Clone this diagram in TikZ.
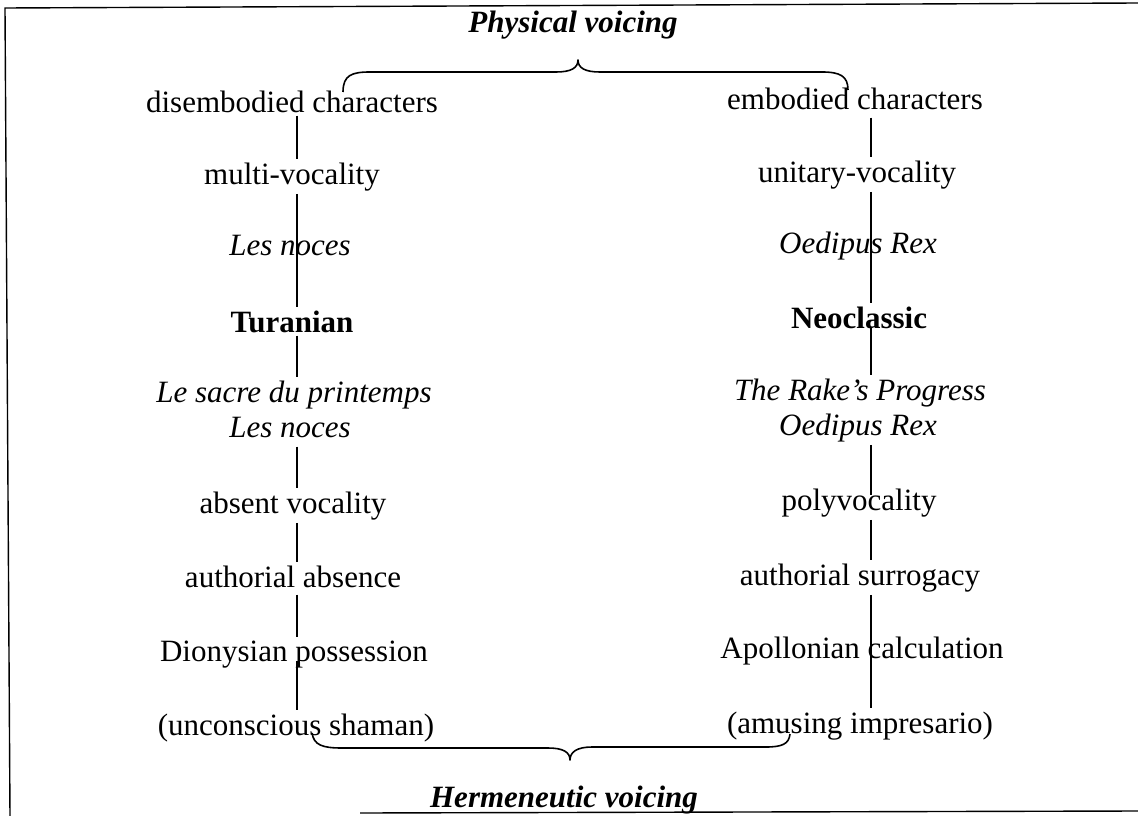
\documentclass[tikz,border=0pt]{standalone}
\usepackage{fontspec}
\setmainfont{Liberation Serif}
\begin{document}
\begin{tikzpicture}[x=1pt,y=-1pt,
  txt/.style={font=\fontsize{31}{37}\selectfont, anchor=base, inner xsep=0pt, inner ysep=3pt},
  ttl/.style={txt, font=\fontsize{31}{37}\selectfont\bfseries\itshape},
  conn/.style={line width=1.5pt},
  bracepath/.style={line width=1.6pt, line join=round},
  frame/.style={line width=1.4pt}]
\useasboundingbox (0,0) rectangle (1138,816);
% frame
\coordinate (f1) at (5,8);
\coordinate (f2) at (1138,3);
\coordinate (f3) at (10,816);
\coordinate (f4) at (360,813);
\coordinate (f5) at (1138,811);
\draw[frame] (f3) -- (f1) -- (f2);
\draw[frame] (f4) -- (f5);
% titles
\node[ttl] (top) at (573,33) {Physical voicing};
\node[ttl] (bot) at (564,807) {Hermeneutic voicing};
% left column
\node[txt] (L1) at (292,112) {disembodied characters};
\node[txt] (L2) at (292,184) {multi-vocality};
\node[txt] (L3) at (290,255) {\itshape Les noces};
\node[txt] (L4) at (292,332) {\bfseries Turanian};
\node[txt] (L5) at (294,402) {\itshape Le sacre du printemps};
\node[txt] (L6) at (290,437) {\itshape Les noces};
\node[txt] (L7) at (293,513) {absent vocality};
\node[txt] (L8) at (293,587) {authorial absence};
\node[txt] (L9) at (294,661) {Dionysian possession};
\node[txt] (L10) at (296,735) {(unconscious shaman)};
% right column
\node[txt] (R1) at (855,110) {embodied characters};
\node[txt] (R2) at (857,182) {unitary-vocality};
\node[txt] (R3) at (858,253) {\itshape Oedipus Rex};
\node[txt] (R4) at (859,328) {\bfseries Neoclassic};
\node[txt] (R5) at (860,400) {\itshape The Rake’s Progress};
\node[txt] (R6) at (858,435) {\itshape Oedipus Rex};
\node[txt] (R7) at (859,510) {polyvocality};
\node[txt] (R8) at (860,585) {authorial surrogacy};
\node[txt] (R9) at (862,658) {Apollonian calculation};
\node[txt] (R10) at (860,733) {(amusing impresario)};
% line positions
\coordinate (lx) at (297,0);
\coordinate (rx) at (871,0);
% left connectors
\draw[conn] (L1.south -| lx) -- (L2.north -| lx);
\draw[conn] (L2.south -| lx) -- (L3.center -| lx);
\draw[conn] (L3.center -| lx) -- (L4.north -| lx);
\draw[conn] (L4.south -| lx) -- (L5.north -| lx);
\draw[conn] ([yshift=-6pt]L6.south -| lx) -- (L7.north -| lx);
\draw[conn] (L7.south -| lx) -- (L8.north -| lx);
\draw[conn] ([yshift=-4pt]L8.south -| lx) -- (L9.north -| lx);
\draw[conn] (L9.base -| lx) -- (L10.north -| lx);
% right connectors
\draw[conn] ([yshift=-4pt]R1.south -| rx) -- (R2.north -| rx);
\draw[conn] (R2.south -| rx) -- (R3.center -| rx);
\draw[conn] (R3.center -| rx) -- (R4.north -| rx);
\draw[conn] (R4.base -| rx) -- (R5.north -| rx);
\draw[conn] (R6.south -| rx) -- ([yshift=-10pt]R7.north -| rx);
\draw[conn] (R7.south -| rx) -- (R8.north -| rx);
\draw[conn] (R8.south -| rx) -- (R9.center -| rx);
\draw[conn] (R9.center -| rx) -- (R10.north -| rx);
% top brace
\coordinate (tbL) at (343,92);
\coordinate (tbT) at (578,60);
\coordinate (tbR) at (848,90);
\draw[bracepath] (tbL) .. controls (343,75) and (352,72) .. (370,72) -- (556,72)
  .. controls (571,72) and (578,68) .. (tbT)
  .. controls (578,68) and (585,72) .. (600,72) -- (822,72)
  .. controls (840,72) and (848,76) .. (tbR);
% bottom brace
\coordinate (bbL) at (312,733);
\coordinate (bbT) at (570,760);
\coordinate (bbR) at (790,734);
\draw[bracepath] (bbL) .. controls (314,745) and (322,748) .. (342,748) -- (548,748)
  .. controls (563,748) and (570,752) .. (bbT)
  .. controls (570,752) and (577,747) .. (592,747) -- (766,747)
  .. controls (782,747) and (789,744) .. (bbR);
\end{tikzpicture}
\end{document}
